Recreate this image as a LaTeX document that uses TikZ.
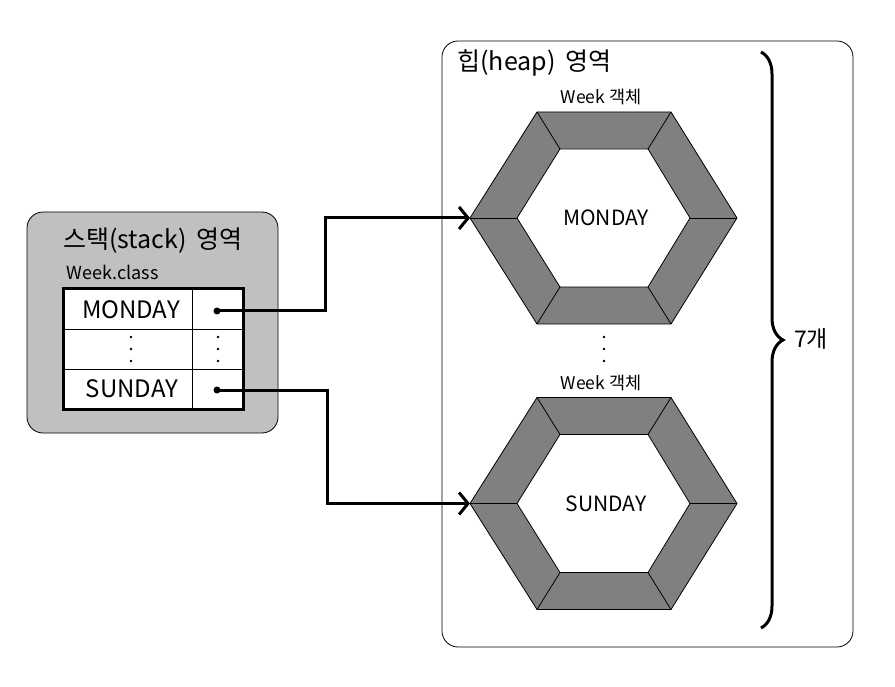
\documentclass[tikz,border=0pt]{standalone}
\usepackage{fontspec}
\setmainfont{Noto Sans CJK KR}
\usetikzlibrary{arrows.meta,decorations.pathreplacing}

\begin{document}
\begin{tikzpicture}[x=1pt,y=-1pt,
    area/.style={rounded corners=16pt, draw=black, line width=0.8pt},
    ring/.style={draw=black, line width=0.8pt},
    link/.style={line width=3pt, -{Straight Barb[length=9pt,width=22pt]}},
    dot/.style={circle, fill=black, inner sep=0pt, minimum size=7pt}]
  \useasboundingbox (0,0) rectangle (895,687);

  % stack area
  \draw [area, fill={rgb,255:red,192;green,192;blue,192}] (27,212) rectangle (278,433);
  \node (stacktitle) at (153,241) {\fontsize{25}{25}\selectfont 스택(stack)\, 영역};
  \node [anchor=west] (cls) at (63,272) {\fontsize{18}{18}\selectfont Week.class};
  \fill [white] (63,289) rectangle (243,409);
  \foreach \y in {329, 369}
      \draw [line width=0.8pt] (63,\y) -- (243,\y);
  \draw [line width=0.8pt] (192,289) -- (192,409);
  \draw [line width=3pt] (63,289) rectangle (243,409);
  \node (mon) at (131,310) {\fontsize{24}{24}\selectfont MONDAY};
  \node (sun) at (132,389) {\fontsize{24}{24}\selectfont SUNDAY};
  \node [dot] (monptr) at (217,311) {};
  \node [dot] (sunptr) at (217,390) {};
  \foreach \x in {131, 218}
      \foreach \y in {337, 349, 361}
          \fill (\x,\y) circle [radius=1.4];

  % heap area
  \draw [area] (442,41) rectangle (853,647);
  \node [anchor=west] (heaptitle) at (454,63) {\fontsize{25}{25}\selectfont 힙(heap)\, 영역};
  \foreach \name/\txt/\cy in {mon/MONDAY/218, sun/SUNDAY/503.5}
  {
      \filldraw [ring, fill=gray] (470,\cy) -- (537,\cy-106) -- (671,\cy-106) -- (737,\cy) -- (671,\cy+106) -- (537,\cy+106) -- cycle;
      \filldraw [ring, fill=white] (517,\cy) -- (560,\cy-69) -- (648,\cy-69) -- (690,\cy) -- (648,\cy+69) -- (560,\cy+69) -- cycle;
      \foreach \ox/\oy/\ix/\iy in {470/0/517/0, 537/-106/560/-69, 671/-106/648/-69, 737/0/690/0, 671/106/648/69, 537/106/560/69}
          \draw [ring] (\ox,\cy+\oy) -- (\ix,\cy+\iy);
      \coordinate (\name-in) at (470,\cy);
      \node (\name-obj) at (606,\cy) {\fontsize{21}{21}\selectfont \txt};
      \node (\name-cap) at (601,\cy-121) {\fontsize{17.5}{17.5}\selectfont Week 객체};
  }
  \foreach \y in {337, 349, 361}
      \fill (604,\y) circle [radius=1.4];

  % references
  \draw [link] (monptr.center) -- (325,311) |- (mon-in);
  \draw [link] (sunptr.center) -- (327,390) |- (sun-in);

  % count
  \draw [line width=3pt, decorate, decoration={brace, amplitude=22pt}] (761,52) -- (761,628);
  \node (count) at (811,339) {\fontsize{23}{23}\selectfont 7개};
\end{tikzpicture}
\end{document}
